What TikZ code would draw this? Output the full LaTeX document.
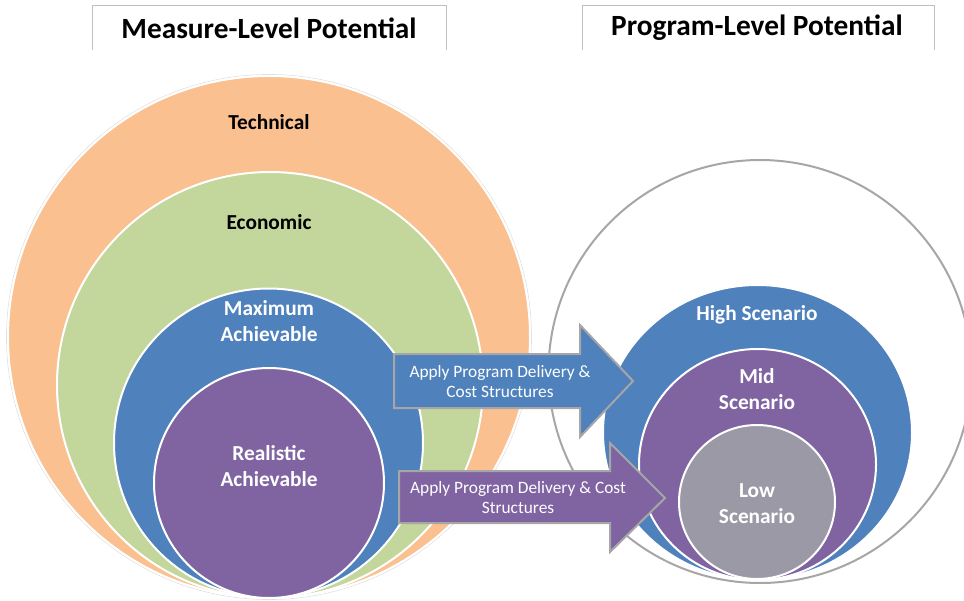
\documentclass[tikz,border=0pt]{standalone}
\usepackage{fontspec}
\setmainfont{Carlito}

\definecolor{techorange}{HTML}{FAC090}
\definecolor{econgreen}{HTML}{C3D69B}
\definecolor{maxblue}{HTML}{4F81BD}
\definecolor{realpurple}{HTML}{8064A2}
\definecolor{lowgray}{HTML}{9B99A6}
\definecolor{outline}{HTML}{A6A6A6}
\definecolor{headline}{HTML}{BFBFBF}

\tikzset{every picture/.style={line width=0.75pt}}
\tikzset{
  ring/.style={draw=white, line width=1.5pt},
  lbl/.style={inner sep=0.75pt, align=center, font=\bfseries\fontsize{16}{19.5}\selectfont},
  headtxt/.style={inner sep=0.75pt, font=\bfseries\fontsize{22}{26}\selectfont},
  arrowtxt/.style={inner sep=0.75pt, align=center, text=white, font=\fontsize{13}{15}\selectfont},
  blockarrow/.style={draw=outline, line width=1.5pt, line join=miter}
}

\begin{document}
\begin{tikzpicture}[x=0.75pt,y=0.75pt,yscale=-1,xscale=1]
\useasboundingbox (0,0) rectangle (964,600);

%Shape: Header frames
\draw [color=headline] (92,50) -- (92,5) -- (446,5) -- (446,50) ;
\draw [color=headline] (582,50) -- (582,5) -- (934,5) -- (934,50) ;

%Shape: Circle (technical)
\draw [color=black!12, line width=0.5pt] (269,337) circle (262.5) ;
\draw [ring, fill=techorange] (269,337) circle (261) ;
%Shape: Circle (economic)
\draw [ring, fill=econgreen] (270,385) circle (213) ;
%Shape: Circle (maximum)
\draw [ring, fill=maxblue] (268.5,443) circle (154.5) ;
%Shape: Circle (realistic)
\draw [ring, fill=realpurple] (269,483) circle (115) ;

%Shape: Circle (program outline)
\draw [color=outline, line width=1.5pt] (760,371.5) circle (211.5) ;
%Shape: Ellipse (high)
\draw [ring, fill=maxblue] (757.5,432.5) ellipse (154.5 and 147.5) ;
%Shape: Ellipse (mid)
\draw [ring, fill=realpurple] (757.5,464.5) ellipse (118.5 and 115.5) ;
%Shape: Ellipse (low)
\draw [ring, fill=lowgray] (757,502) ellipse (78 and 77) ;

%Shape: Right Arrow (upper)
\draw [blockarrow, fill=maxblue] (394,354) -- (580,354) -- (580,325) -- (633,381) -- (580,437) -- (580,408) -- (394,408) -- cycle ;
%Shape: Right Arrow (lower)
\draw [blockarrow, fill=realpurple] (399,471) -- (610,471) -- (610,443) -- (665,498) -- (610,552) -- (610,523) -- (399,523) -- cycle ;

% Text Node
\draw (269,28) node (measurehd) [headtxt] {Measure-Level Potential};
% Text Node
\draw (757,28) node (programhd) [headtxt] {Program-Level Potential};
% Text Node
\draw (269,122) node (technical) [lbl] {Technical};
% Text Node
\draw (269,222) node (economic) [lbl] {Economic};
% Text Node
\draw (269,321) node (maximum) [lbl, text=white] {Maximum\\Achievable};
% Text Node
\draw (269,466) node (realistic) [lbl, text=white] {Realistic\\Achievable};
% Text Node
\draw (757,315) node (high) [lbl, text=white] {High Scenario};
% Text Node
\draw (757,389) node (mid) [lbl, text=white] {Mid\\Scenario};
% Text Node
\draw (757,504) node (low) [lbl, text=white] {Low\\Scenario};
% Text Node
\draw (500,382) node (applyup) [arrowtxt] {Apply Program Delivery \&\\Cost Structures};
% Text Node
\draw (518,498) node (applylow) [arrowtxt] {Apply Program Delivery \& Cost\\Structures};

\end{tikzpicture}
\end{document}
